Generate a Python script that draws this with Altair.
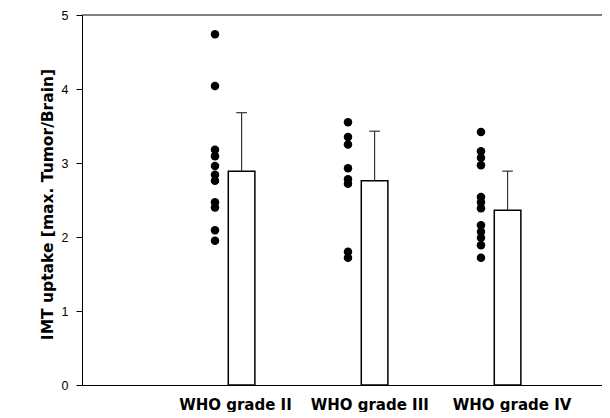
import altair as alt
import pandas as pd

# ---- data ----
groups = ["WHO grade II", "WHO grade III", "WHO grade IV"]
uptake_grade_II = [4.74, 4.04, 3.18, 3.09, 2.96, 2.84, 2.76, 2.47, 2.40, 2.09, 1.95]
uptake_grade_III = [3.55, 3.35, 3.25, 2.93, 2.78, 2.72, 1.80, 1.72]
uptake_grade_IV = [3.42, 3.16, 3.07, 2.97, 2.54, 2.47, 2.39, 2.16, 2.07, 1.99, 1.89, 1.72]
bar_mean = [2.89, 2.76, 2.36]
bar_upper = [3.68, 3.43, 2.89]
y_ticks = [0, 1, 2, 3, 4, 5]
y_title = "IMT uptake [max. Tumor/Brain]"

series = [uptake_grade_II, uptake_grade_III, uptake_grade_IV]
dots = pd.DataFrame(
    [{"g": i + 1, "value": v} for i, vals in enumerate(series) for v in vals]
)
bars = pd.DataFrame({"g": [1, 2, 3], "mean": bar_mean, "upper": bar_upper})
top = pd.DataFrame({"v": [max(y_ticks)]})

xscale = alt.Scale(domain=[-0.1, 3.81], nice=False, zero=False)
yscale = alt.Scale(domain=[0, 5], nice=False)

label_expr = " : ".join(
    [f"datum.value < {i + 1.5} ? '{g}'" for i, g in enumerate(groups[:-1])]
) + f" : '{groups[-1]}'"

xaxis = alt.Axis(
    values=[1.05, 2.06, 3.13],
    labelExpr=label_expr,
    ticks=False,
    grid=False,
    title=None,
    domainColor="black",
    domainWidth=1,
    labelFont="DejaVu Sans",
    labelFontWeight="bold",
    labelFontSize=15,
    labelColor="black",
    labelPadding=12,
    labelFlush=False,
    labelOverlap=False,
)
yaxis = alt.Axis(
    values=y_ticks,
    grid=False,
    title=y_title,
    titleFont="DejaVu Sans",
    titleFontWeight="bold",
    titleFontSize=15.5,
    titleColor="black",
    titleAngle=-90,
    titleAlign="center",
    titleBaseline="alphabetic",
    titleX=-30,
    titleY=189,
    domainColor="black",
    domainWidth=1,
    tickColor="black",
    tickSize=6,
    labelFont="Liberation Sans",
    labelFontSize=12.5,
    labelColor="black",
    labelPadding=8,
    labelFlush=False,
)

points = alt.Chart(dots).transform_calculate(xpos="datum.g - 0.1").mark_circle(
    size=72, color="black", opacity=1
).encode(
    x=alt.X("xpos:Q", scale=xscale, axis=xaxis),
    y=alt.Y("value:Q", scale=yscale, axis=yaxis),
)

bar_layer = alt.Chart(bars).transform_calculate(
    x0="datum.g", x1="datum.g + 0.2", zero="0"
).mark_rect(fill="white", stroke="black", strokeWidth=1.5).encode(
    x=alt.X("x0:Q", scale=xscale, axis=xaxis),
    x2="x1:Q",
    y=alt.Y("mean:Q", scale=yscale, axis=yaxis),
    y2="zero:Q",
)

err_line = alt.Chart(bars).transform_calculate(xc="datum.g + 0.1").mark_rule(
    color="#333333", strokeWidth=1.2
).encode(
    x=alt.X("xc:Q", scale=xscale, axis=xaxis),
    y=alt.Y("mean:Q", scale=yscale, axis=yaxis),
    y2="upper:Q",
)

err_cap = alt.Chart(bars).transform_calculate(
    xa="datum.g + 0.06", xb="datum.g + 0.14"
).mark_rule(color="#333333", strokeWidth=1.2).encode(
    x=alt.X("xa:Q", scale=xscale, axis=xaxis),
    x2="xb:Q",
    y=alt.Y("upper:Q", scale=yscale, axis=yaxis),
)

top_line = alt.Chart(top).mark_rule(color="black", strokeWidth=1).encode(
    y=alt.Y("v:Q", scale=yscale, axis=yaxis)
)

chart = alt.layer(points, bar_layer, err_line, err_cap, top_line).properties(
    width=520,
    height=370,
    autosize=alt.AutoSizeParams(type="none"),
    padding={"left": 74, "top": 7, "right": 0, "bottom": 27},
    background="white",
).configure_view(stroke=None)

chart.save("out.html", embed_options={"renderer": "svg", "actions": False})
